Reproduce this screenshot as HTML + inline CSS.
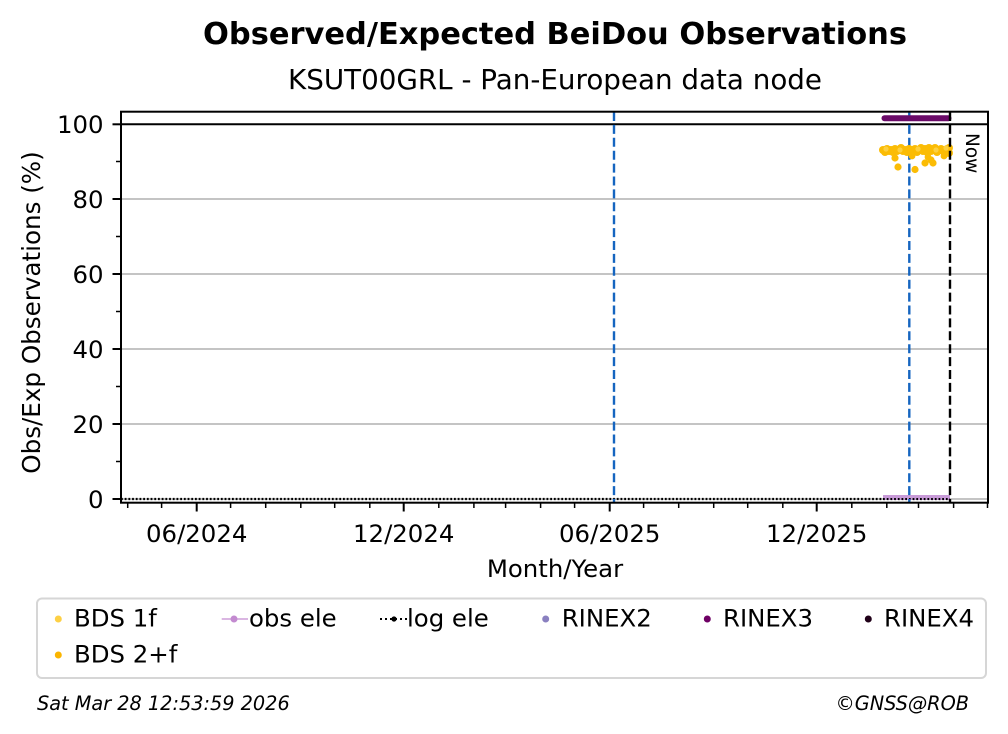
<!DOCTYPE html>
<html>
<head>
<meta charset="utf-8">
<style>
html,body{margin:0;padding:0;background:#fff;}
svg{display:block;}
text{font-family:"DejaVu Sans","Liberation Sans",sans-serif;fill:#000;}
</style>
</head>
<body>
<svg width="1008" height="734" viewBox="0 0 1008 734" xmlns="http://www.w3.org/2000/svg">
<rect x="0" y="0" width="1008" height="734" fill="#fff"/>

<!-- Titles -->
<text x="203" y="44" font-size="30.4" font-weight="bold" textLength="704" lengthAdjust="spacingAndGlyphs">Observed/Expected BeiDou Observations</text>
<text x="288" y="89" font-size="27.6" textLength="534" lengthAdjust="spacingAndGlyphs">KSUT00GRL - Pan-European data node</text>

<!-- grid lines -->
<g stroke="#b0b0b0" stroke-width="1.6">
  <line x1="121" y1="499" x2="988" y2="499"/>
  <line x1="121" y1="424" x2="988" y2="424"/>
  <line x1="121" y1="349" x2="988" y2="349"/>
  <line x1="121" y1="274" x2="988" y2="274"/>
  <line x1="121" y1="199" x2="988" y2="199"/>
</g>

<!-- axhline 100 -->
<line x1="121" y1="124.3" x2="988" y2="124.3" stroke="#000" stroke-width="2"/>

<!-- log ele dotted -->
<line x1="121" y1="499" x2="950" y2="499" stroke="#000" stroke-width="2.2" stroke-dasharray="1.8,1.9"/>

<!-- obs ele band -->
<rect x="883" y="495" width="67" height="5" fill="#c89ad8"/>
<line x1="883" y1="499" x2="950" y2="499" stroke="#000" stroke-width="2" stroke-dasharray="1.8,1.9"/>

<!-- vertical lines -->
<line x1="614" y1="112" x2="614" y2="503" stroke="#1565c0" stroke-width="2.4" stroke-dasharray="9,3.9"/>
<line x1="909.3" y1="112" x2="909.3" y2="503" stroke="#1565c0" stroke-width="2.4" stroke-dasharray="9,3.9"/>

<!-- RINEX3 -->
<line x1="884.5" y1="118.3" x2="948.5" y2="118.3" stroke="#6a0a68" stroke-width="6" stroke-linecap="round"/>

<!-- BDS dots -->
<g fill="#fbbc05">
  <circle cx="883" cy="150" r="4"/><circle cx="885" cy="152" r="4"/><circle cx="887" cy="149" r="4"/>
  <circle cx="889" cy="151" r="4"/><circle cx="891" cy="150" r="4"/><circle cx="893" cy="152" r="4"/>
  <circle cx="895" cy="149" r="4"/><circle cx="897" cy="151" r="4"/><circle cx="899" cy="150" r="4"/>
  <circle cx="901" cy="148" r="4"/><circle cx="903" cy="151" r="4"/><circle cx="905" cy="150" r="4"/>
  <circle cx="907" cy="152" r="4"/><circle cx="909" cy="149" r="4"/><circle cx="911" cy="151" r="4"/>
  <circle cx="913" cy="150" r="4"/><circle cx="915" cy="149" r="4"/><circle cx="917" cy="152" r="4"/>
  <circle cx="919" cy="150" r="4"/><circle cx="921" cy="148" r="4"/><circle cx="923" cy="151" r="4"/>
  <circle cx="925" cy="149" r="4"/><circle cx="927" cy="152" r="4"/><circle cx="929" cy="148" r="4"/>
  <circle cx="931" cy="151" r="4"/><circle cx="933" cy="150" r="4"/><circle cx="935" cy="148" r="4"/>
  <circle cx="937" cy="152" r="4"/><circle cx="939" cy="150" r="4"/><circle cx="941" cy="149" r="4"/>
  <circle cx="943" cy="151" r="4"/><circle cx="945" cy="150" r="4"/><circle cx="947" cy="149" r="4"/>
  <circle cx="949" cy="153" r="4"/><circle cx="949" cy="148" r="4"/>
  <circle cx="895" cy="158" r="3.6"/><circle cx="898" cy="167" r="3.6"/><circle cx="915" cy="169.5" r="3.6"/>
  <circle cx="925" cy="163" r="3.6"/><circle cx="931" cy="160" r="3.6"/><circle cx="933" cy="163" r="3.6"/>
  <circle cx="912" cy="156" r="3.4"/><circle cx="944" cy="156" r="3.4"/><circle cx="928" cy="157" r="3.4"/>
</g>
<g fill="#fdd040">
  <circle cx="886" cy="149" r="2.6"/><circle cx="900" cy="150" r="2.6"/><circle cx="918" cy="149" r="2.6"/>
  <circle cx="936" cy="150" r="2.6"/><circle cx="946" cy="148" r="2.6"/>
</g>

<!-- black Now dashed line -->
<line x1="950" y1="112" x2="950" y2="503" stroke="#000" stroke-width="2.4" stroke-dasharray="9,3.9"/>
<text transform="translate(966,133) rotate(90)" font-size="18.5">Now</text>

<!-- spines -->
<rect x="121" y="111.7" width="867" height="391" fill="none" stroke="#000" stroke-width="2"/>

<!-- y ticks -->
<g stroke="#000" stroke-width="2">
  <line x1="112.5" y1="499" x2="121" y2="499"/>
  <line x1="112.5" y1="424" x2="121" y2="424"/>
  <line x1="112.5" y1="349" x2="121" y2="349"/>
  <line x1="112.5" y1="274" x2="121" y2="274"/>
  <line x1="112.5" y1="199" x2="121" y2="199"/>
  <line x1="112.5" y1="124.3" x2="121" y2="124.3"/>
</g>
<g stroke="#000" stroke-width="1.5">
  <line x1="116" y1="461.5" x2="121" y2="461.5"/>
  <line x1="116" y1="386.5" x2="121" y2="386.5"/>
  <line x1="116" y1="311.5" x2="121" y2="311.5"/>
  <line x1="116" y1="236.5" x2="121" y2="236.5"/>
  <line x1="116" y1="161.5" x2="121" y2="161.5"/>
</g>
<g font-size="24.4" text-anchor="end">
  <text x="103.5" y="507.9">0</text>
  <text x="103.5" y="432.9">20</text>
  <text x="103.5" y="357.9">40</text>
  <text x="103.5" y="282.9">60</text>
  <text x="103.5" y="207.9">80</text>
  <text x="103.5" y="133.2">100</text>
</g>

<!-- x ticks -->
<g stroke="#000" stroke-width="2">
  <line x1="196.7" y1="503" x2="196.7" y2="511.5"/>
  <line x1="403.7" y1="503" x2="403.7" y2="511.5"/>
  <line x1="609.7" y1="503" x2="609.7" y2="511.5"/>
  <line x1="816.7" y1="503" x2="816.7" y2="511.5"/>
</g>
<g stroke="#000" stroke-width="1.5">
  <line x1="127.7" y1="503" x2="127.7" y2="508"/>
  <line x1="161.6" y1="503" x2="161.6" y2="508"/>
  <line x1="230.6" y1="503" x2="230.6" y2="508"/>
  <line x1="265.7" y1="503" x2="265.7" y2="508"/>
  <line x1="300.8" y1="503" x2="300.8" y2="508"/>
  <line x1="334.7" y1="503" x2="334.7" y2="508"/>
  <line x1="369.8" y1="503" x2="369.8" y2="508"/>
  <line x1="438.8" y1="503" x2="438.8" y2="508"/>
  <line x1="473.9" y1="503" x2="473.9" y2="508"/>
  <line x1="505.6" y1="503" x2="505.6" y2="508"/>
  <line x1="540.6" y1="503" x2="540.6" y2="508"/>
  <line x1="574.6" y1="503" x2="574.6" y2="508"/>
  <line x1="643.6" y1="503" x2="643.6" y2="508"/>
  <line x1="678.7" y1="503" x2="678.7" y2="508"/>
  <line x1="713.7" y1="503" x2="713.7" y2="508"/>
  <line x1="747.7" y1="503" x2="747.7" y2="508"/>
  <line x1="782.8" y1="503" x2="782.8" y2="508"/>
  <line x1="851.8" y1="503" x2="851.8" y2="508"/>
  <line x1="886.8" y1="503" x2="886.8" y2="508"/>
  <line x1="918.5" y1="503" x2="918.5" y2="508"/>
  <line x1="953.6" y1="503" x2="953.6" y2="508"/>
  <line x1="987.5" y1="503" x2="987.5" y2="508"/>
</g>
<g font-size="24.4" text-anchor="middle">
  <text x="196.7" y="542">06/2024</text>
  <text x="403.7" y="542">12/2024</text>
  <text x="609.7" y="542">06/2025</text>
  <text x="816.7" y="542">12/2025</text>
</g>

<!-- axis labels -->
<text x="555" y="577" font-size="24.4" text-anchor="middle">Month/Year</text>
<text transform="translate(40,312.5) rotate(-90)" font-size="24.6" text-anchor="middle">Obs/Exp Observations (%)</text>

<!-- legend -->
<rect x="37" y="598.5" width="949" height="79.5" rx="5" ry="5" fill="#fff" stroke="#d6d6d6" stroke-width="2"/>
<circle cx="58.3" cy="619" r="3.5" fill="#fdd045"/>
<text x="74" y="626.5" font-size="24.4">BDS 1f</text>
<circle cx="58.3" cy="655" r="3.5" fill="#fbb500"/>
<text x="74" y="662.5" font-size="24.4">BDS 2+f</text>
<line x1="221.7" y1="619" x2="248" y2="619" stroke="#c38ad0" stroke-width="1.2"/>
<circle cx="234" cy="619" r="3.5" fill="#c38ad0"/>
<text x="249" y="626.5" font-size="24.4">obs ele</text>
<line x1="380" y1="619" x2="407" y2="619" stroke="#000" stroke-width="2" stroke-dasharray="2,3"/>
<circle cx="394" cy="619" r="2.6" fill="#000"/>
<text x="407" y="626.5" font-size="24.4">log ele</text>
<circle cx="545.7" cy="619" r="3.5" fill="#8a80c0"/>
<text x="561.7" y="626.5" font-size="24.4">RINEX2</text>
<circle cx="707.3" cy="619" r="3.5" fill="#6e0064"/>
<text x="723" y="626.5" font-size="24.4">RINEX3</text>
<circle cx="868.3" cy="619" r="3.5" fill="#200018"/>
<text x="884" y="626.5" font-size="24.4">RINEX4</text>

<!-- footer -->
<text x="37" y="710" font-size="19.3" font-style="italic">Sat Mar 28 12:53:59 2026</text>
<text x="969" y="710" font-size="19.3" font-style="italic" text-anchor="end">©GNSS@ROB</text>
</svg>
</body>
</html>
